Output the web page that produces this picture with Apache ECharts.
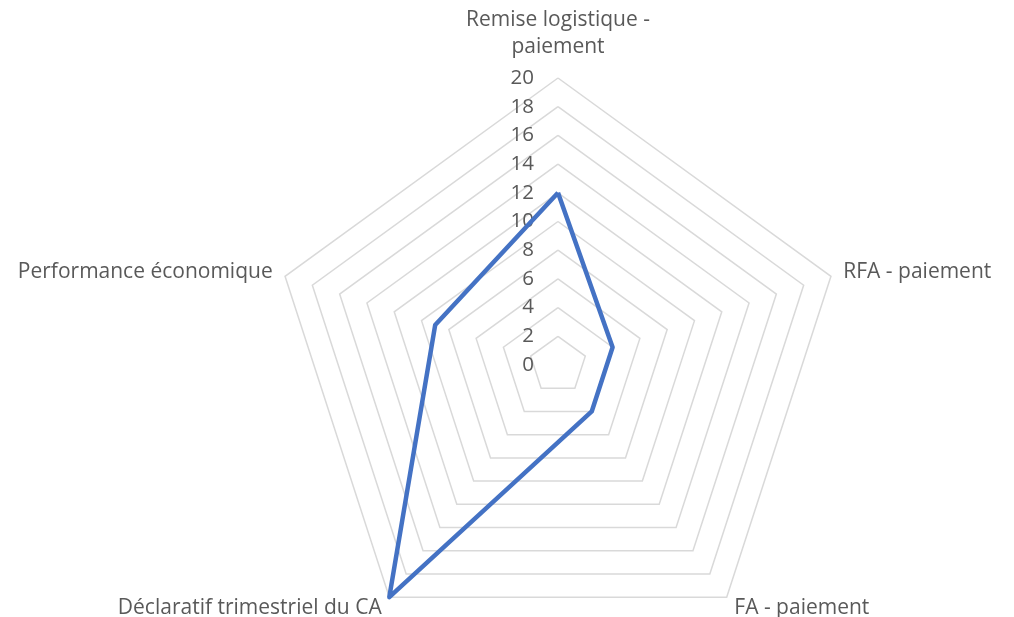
<!DOCTYPE html>
<html>
<head>
<meta charset="utf-8">
<script src="https://cdn.jsdelivr.net/npm/echarts@6/dist/echarts.min.js"></script>
<style>
html,body{margin:0;padding:0;background:#fff;}
#chart{width:1014px;height:617px;}
</style>
</head>
<body>
<div id="chart"></div>
<script>
// Categories and values in clockwise order starting from the top
const categories = ['Remise logistique -\npaiement', 'RFA - paiement', 'FA - paiement', 'Déclaratif trimestriel du CA', 'Performance économique'];
const values = [12, 4, 4, 20, 9];
const axisMax = 20;
const tickStep = 2;

// ECharts lays radar indicators counter-clockwise; reorder to draw clockwise.
const order = [0].concat(categories.map(function (_, i) { return i; }).slice(1).reverse());

const chart = echarts.init(document.getElementById('chart'), null, {renderer: 'canvas'});
const FONT = '"Open Sans", "Liberation Sans", sans-serif';

const indicator = order.map(function (i) {
  const ind = { name: categories[i], min: 0, max: axisMax };
  if (i === 0) {
    ind.axisLabel = { show: true };
    ind.nameGap = 17;
  }
  return ind;
});
const seriesValues = order.map(function (i) { return values[i]; });

chart.setOption({
  backgroundColor: '#ffffff',
  animation: false,
  radar: {
    center: [558, 365],
    radius: 287,
    startAngle: 90,
    shape: 'polygon',
    splitNumber: axisMax / tickStep,
    indicator: indicator,
    nameGap: 13,
    axisName: {
      color: '#595959',
      fontFamily: FONT,
      fontSize: 21,
      lineHeight: 27
    },
    axisLine: { show: false },
    axisTick: { show: false },
    splitArea: { show: false },
    splitLine: { lineStyle: { color: '#d9d9d9', width: 1.5 } },
    axisLabel: {
      show: false,
      color: '#595959',
      fontFamily: FONT,
      fontSize: 20.5,
      margin: 24,
      showMinLabel: true,
      showMaxLabel: true
    }
  },
  series: [{
    type: 'radar',
    symbol: 'none',
    lineStyle: { color: '#4472C4', width: 4.5 },
    itemStyle: { color: '#4472C4' },
    z: 5,
    data: [{ value: seriesValues }]
  }]
});
</script>
</body>
</html>
